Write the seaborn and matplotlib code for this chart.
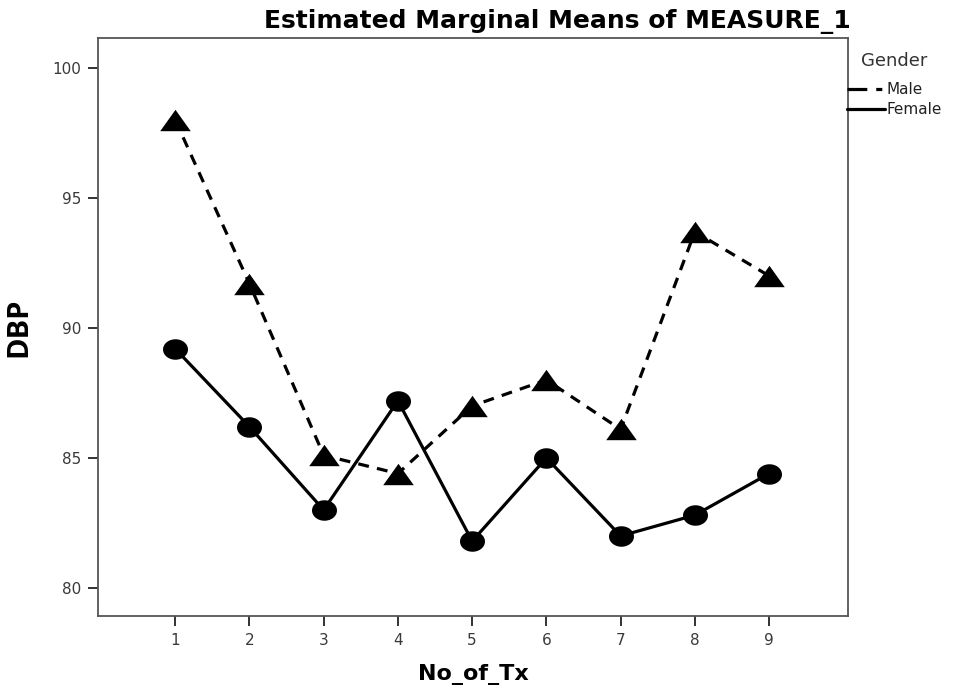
import numpy as np
import pandas as pd
import matplotlib
matplotlib.use("Agg")
import matplotlib.pyplot as plt
from matplotlib.path import Path
from matplotlib.lines import Line2D
import seaborn as sns

# Estimated marginal means of DBP by number of treatments and gender
no_of_tx = [1, 2, 3, 4, 5, 6, 7, 8, 9]
male_dbp = [98.0, 91.7, 85.1, 84.4, 87.0, 88.0, 86.1, 93.7, 92.0]
female_dbp = [89.2, 86.2, 83.0, 87.2, 81.8, 85.0, 82.0, 82.8, 84.4]
genders = ["Male", "Female"]
y_ticks = [80, 85, 90, 95, 100]

df = pd.concat([
    pd.DataFrame({"No_of_Tx": no_of_tx, "DBP": male_dbp, "Gender": "Male"}),
    pd.DataFrame({"No_of_Tx": no_of_tx, "DBP": female_dbp, "Gender": "Female"}),
], ignore_index=True)

sns.set_style("white")
plt.rcParams["font.family"] = ["DejaVu Sans"]

# flattened triangle and ellipse marker shapes
tri = Path([(-1.0, -0.7), (1.0, -0.7), (0.0, 0.7), (-1.0, -0.7)],
           [Path.MOVETO, Path.LINETO, Path.LINETO, Path.CLOSEPOLY])
t = np.linspace(0, 2 * np.pi, 60)
ell = Path(np.column_stack([np.cos(t), 0.82 * np.sin(t)]), closed=True)

fig = plt.figure(figsize=(9.54, 6.87), dpi=100)
ax = fig.add_axes([0.1027, 0.1033, 0.786, 0.8414])

sns.lineplot(data=df, x="No_of_Tx", y="DBP", style="Gender", style_order=genders,
             markers={"Male": tri, "Female": ell},
             dashes={"Male": (3.4, 2.6), "Female": ""},
             color="black", linewidth=2.3, markersize=22, markeredgewidth=0,
             legend=False, ax=ax)
# ellipse markers slightly smaller than the triangles
ax.lines[1].set_markersize(18)

ax.set_xlim(-0.04, 10.06)
ax.set_ylim(78.92, 101.15)
ax.set_xticks(no_of_tx)
ax.set_yticks(y_ticks)
ax.tick_params(axis="both", which="both", direction="out", length=7, width=1.4,
               color="#333333", labelsize=11, labelcolor="#3a3a3a", pad=5,
               bottom=True, left=True)
for s in ax.spines.values():
    s.set_color("#555555")
    s.set_linewidth(1.3)

ax.set_xlabel("No_of_Tx", fontsize=16, fontweight="bold", labelpad=12,
              color="black")
ax.set_ylabel("DBP", fontsize=21, fontweight="bold", labelpad=14,
              family=["Open Sans", "DejaVu Sans"], color="black")

fig.text(0.584, 0.968, "Estimated Marginal Means of MEASURE_1",
         ha="center", va="center", fontsize=18, fontweight="bold",
         color="black")

handles = [
    Line2D([], [], color="black", linewidth=2.3, dashes=(6.2, 2.8, 1.9, 10)),
    Line2D([], [], color="black", linewidth=2.3),
]
leg = ax.legend(handles, genders, title="Gender", frameon=False,
                loc="upper left", bbox_to_anchor=(0.888, 0.925),
                bbox_transform=fig.transFigure, handlelength=2.5,
                handletextpad=0.05, labelspacing=0.35, fontsize=11,
                title_fontsize=13, borderaxespad=0, borderpad=0)
leg.get_title().set_color("#333333")
leg._legend_box.sep = 9
for txt in leg.get_texts():
    txt.set_color("#222222")

fig.savefig("out.png", dpi=100)
